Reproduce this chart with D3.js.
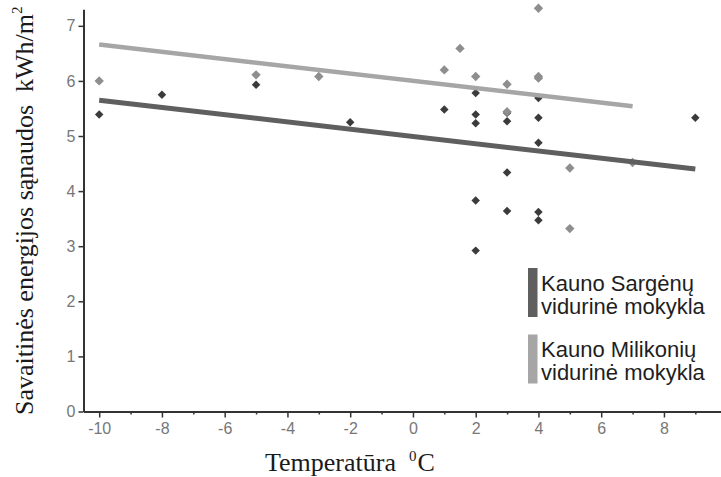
<!DOCTYPE html>
<html>
<head>
<meta charset="utf-8">
<script src="https://cdn.jsdelivr.net/npm/d3@7.9.0/dist/d3.min.js"></script>
<style>
  body { margin: 0; background: #fff; }
  svg { display: block; }
</style>
</head>
<body>
<svg id="chart" width="721" height="477"></svg>
<script>
// Kauno Sargėnų vidurinė mokykla (dark)
const sargTemp = [-10, -8, -5, -2, 1, 2, 2, 2, 2, 2, 3, 3, 3, 3, 4, 4, 4, 4, 4, 9];
const sargVal  = [5.39, 5.75, 5.93, 5.25, 5.48, 5.78, 5.39, 5.23, 3.83, 2.92, 5.42, 5.27, 4.34, 3.64, 5.69, 5.33, 4.88, 3.62, 3.47, 5.33];

// Kauno Milikonių vidurinė mokykla (light)
const milTemp = [-10, -5, -3, 1, 1.5, 2, 3, 3, 4, 4, 4, 5, 5, 7];
const milVal  = [6.0, 6.11, 6.08, 6.2, 6.59, 6.08, 5.94, 5.44, 7.32, 6.05, 6.08, 4.42, 3.32, 4.52];

// trend lines (end points)
const sargTrendT = [-10, 9];
const sargTrendV = [5.65, 4.40];
const milTrendT  = [-10, 7];
const milTrendV  = [6.66, 5.54];

const xTicks = [-10, -8, -6, -4, -2, 0, 2, 4, 6, 8];
const xMinor = [-9, -7, -5, -3, -1, 1, 3, 5, 7, 9];
const yTicks = [0, 1, 2, 3, 4, 5, 6, 7];

const legendLabels = [
  ['Kauno Sargėnų', 'vidurinė mokykla'],
  ['Kauno Milikonių', 'vidurinė mokykla']
];

const darkPt = '#3b3b3b', lightPt = '#8e8e8e';
const darkLine = '#5f5f5f', lightLine = '#a6a6a6';

const svg = d3.select('#chart');

const x = d3.scaleLinear().domain([-10.5, 9.85]).range([83.5, 722]);
const y = d3.scaleLinear().domain([0, 7.3]).range([411.5, 9.3]);

// axes (plain hyphen for negatives, like the original)
const fmt = d => String(d);
svg.append('g')
  .attr('transform', `translate(0,${y(0)})`)
  .call(d3.axisBottom(x).tickValues(xTicks).tickFormat(fmt).tickSize(6).tickSizeOuter(0).tickPadding(5));
svg.append('g')
  .attr('transform', `translate(0,${y(0)})`)
  .call(d3.axisBottom(x).tickValues(xMinor).tickSize(3).tickFormat('').tickSizeOuter(0))
  .select('.domain').remove();
svg.append('g')
  .attr('transform', `translate(${x(-10.5)},0)`)
  .call(d3.axisLeft(y).tickValues(yTicks).tickFormat(fmt).tickSize(5).tickSizeOuter(0).tickPadding(3));

svg.selectAll('.domain').attr('stroke', '#333').attr('stroke-width', 2);
svg.selectAll('.tick line').attr('stroke', '#333').attr('stroke-width', 1.5);
svg.selectAll('.tick text')
  .attr('fill', '#777')
  .style('font-family', '"Liberation Sans", Arial, sans-serif')
  .style('font-size', '16px');

// diamond symbol
const diamond = {
  draw(ctx, size) {
    const r = Math.sqrt(size / 2);
    ctx.moveTo(0, -r); ctx.lineTo(r, 0); ctx.lineTo(0, r); ctx.lineTo(-r, 0); ctx.closePath();
  }
};

const sargData = sargTemp.map((t, i) => ({ t, v: sargVal[i] }));
const milData = milTemp.map((t, i) => ({ t, v: milVal[i] }));

svg.append('g').selectAll('path')
  .data(sargData).join('path')
  .attr('transform', d => `translate(${x(d.t)},${y(d.v)})`)
  .attr('d', d3.symbol(diamond, 36))
  .attr('fill', darkPt);

svg.append('g').selectAll('path')
  .data(milData).join('path')
  .attr('transform', d => `translate(${x(d.t)},${y(d.v)})`)
  .attr('d', d3.symbol(diamond, 44))
  .attr('fill', lightPt);

// trend lines
const line = d3.line().x(d => x(d[0])).y(d => y(d[1]));
svg.append('path')
  .attr('d', line(d3.zip(milTrendT, milTrendV)))
  .attr('stroke', lightLine).attr('stroke-width', 4.5).attr('fill', 'none');
svg.append('path')
  .attr('d', line(d3.zip(sargTrendT, sargTrendV)))
  .attr('stroke', darkLine).attr('stroke-width', 5).attr('fill', 'none');

// legend
const legend = svg.append('g').attr('transform', 'translate(528,268)');
[darkLine, lightLine].forEach((c, i) => {
  const g = legend.append('g').attr('transform', `translate(0,${i * 66.5})`);
  g.append('rect').attr('width', 9.5).attr('height', 49).attr('fill', c);
  legendLabels[i].forEach((txt, j) => {
    g.append('text')
      .attr('x', 13).attr('y', 22.5 + j * 23.3)
      .attr('fill', '#1e1e1e')
      .style('font-family', '"Liberation Sans", Arial, sans-serif')
      .style('font-size', '22px')
      .text(txt);
  });
});

// axis titles
const serif = '"Liberation Serif", "Times New Roman", serif';
const xt = svg.append('text')
  .attr('x', 265).attr('y', 471)
  .attr('fill', '#1a1a1a')
  .style('font-family', serif).style('font-size', '26px');
xt.append('tspan').text('Temperatūra');
xt.append('tspan').attr('dx', 13).attr('dy', -10).style('font-size', '15px').text('0');
xt.append('tspan').attr('dx', 1).attr('dy', 10).text('C');

const yt = svg.append('text')
  .attr('transform', 'translate(33,415) rotate(-90)')
  .attr('fill', '#1a1a1a')
  .style('font-family', serif).style('font-size', '26px');
yt.append('tspan').text('Savaitinės energijos sąnaudos\u00a0 kWh/m');
yt.append('tspan').attr('dy', -11).style('font-size', '15px').text('2');
</script>
</body>
</html>
